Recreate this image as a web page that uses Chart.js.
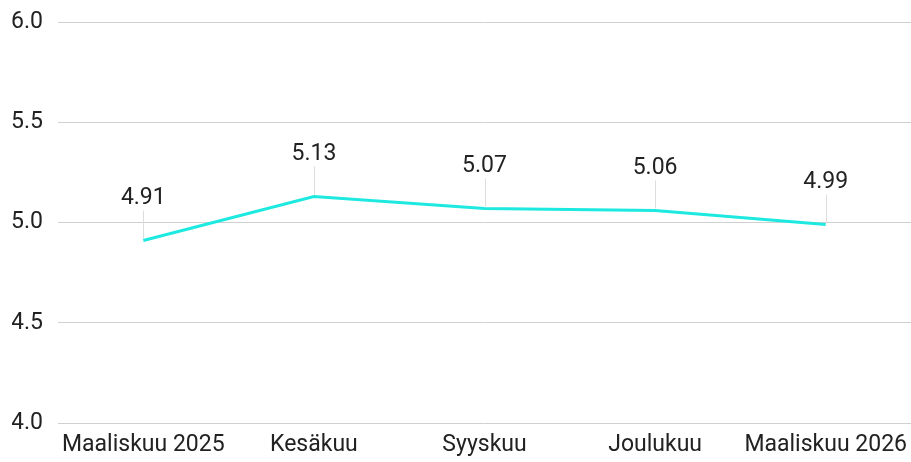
<!DOCTYPE html>
<html>
<head>
<meta charset="utf-8">
<script src="https://cdn.jsdelivr.net/npm/chart.js@4"></script>
<style>
  html, body { margin: 0; padding: 0; background: #fff; }
  #wrap { width: 911px; height: 462px; position: relative; }
</style>
</head>
<body>
<div id="wrap"><canvas id="line_chart"></canvas></div>
<script>
"use strict";

const months = ["Maaliskuu 2025", "Kesäkuu", "Syyskuu", "Joulukuu", "Maaliskuu 2026"];
const values = [4.91, 5.13, 5.07, 5.06, 4.99];
const yTicks = [4.0, 4.5, 5.0, 5.5, 6.0];

// arvot pisteiden yläpuolelle + pieni viiva
const valueLabels = {
  id: "valueLabels",
  afterDatasetsDraw(chart) {
    const ctx = chart.ctx;
    const meta = chart.getDatasetMeta(0);
    ctx.save();
    meta.data.forEach(function (pt, i) {
      ctx.strokeStyle = "#dddddd";
      ctx.lineWidth = 1;
      ctx.beginPath();
      ctx.moveTo(Math.round(pt.x) + 0.5, pt.y - 2);
      ctx.lineTo(Math.round(pt.x) + 0.5, pt.y - 30);
      ctx.stroke();
      ctx.fillStyle = "#222222";
      ctx.font = "23px Roboto";
      ctx.textAlign = "center";
      ctx.textBaseline = "middle";
      ctx.fillText(values[i].toFixed(2), pt.x, pt.y - 42);
    });
    ctx.restore();
  }
};

const ctx = document.getElementById("line_chart");

new Chart(ctx, {
  type: "line",
  data: {
    labels: months,
    datasets: [{
      data: values,
      borderColor: "#1de9e0",
      borderWidth: 3,
      pointRadius: 0,
      tension: 0
    }]
  },
  options: {
    responsive: true,
    maintainAspectRatio: false,
    animation: false,
    layout: { padding: { top: 22, right: 0, left: 12, bottom: 0 } },
    scales: {
      x: {
        offset: true,
        afterFit: function (scale) {
          scale.height = 39;
          scale.paddingRight = 0;
          scale.paddingLeft = 0;
        },
        grid: { display: false, drawTicks: false },
        border: { display: false },
        ticks: {
          color: "#222222",
          font: { family: "Roboto", size: 23 },
          padding: 8,
          maxRotation: 0,
          autoSkip: false
        }
      },
      y: {
        min: 4.0,
        max: 6.0,
        afterBuildTicks: function (scale) {
          scale.ticks = yTicks.map(function (v) { return { value: v }; });
        },
        afterFit: function (scale) {
          scale.width = 46;
          scale.paddingTop = 0;
          scale.paddingBottom = 0;
        },
        grid: { color: "#d0d0d0", drawTicks: false },
        border: { display: false },
        ticks: {
          color: "#222222",
          font: { family: "Roboto", size: 23 },
          padding: 15,
          callback: function (value) { return value.toFixed(1); }
        }
      }
    },
    plugins: {
      legend: { display: false },
      tooltip: { enabled: false }
    }
  },
  plugins: [valueLabels]
});
</script>
</body>
</html>
